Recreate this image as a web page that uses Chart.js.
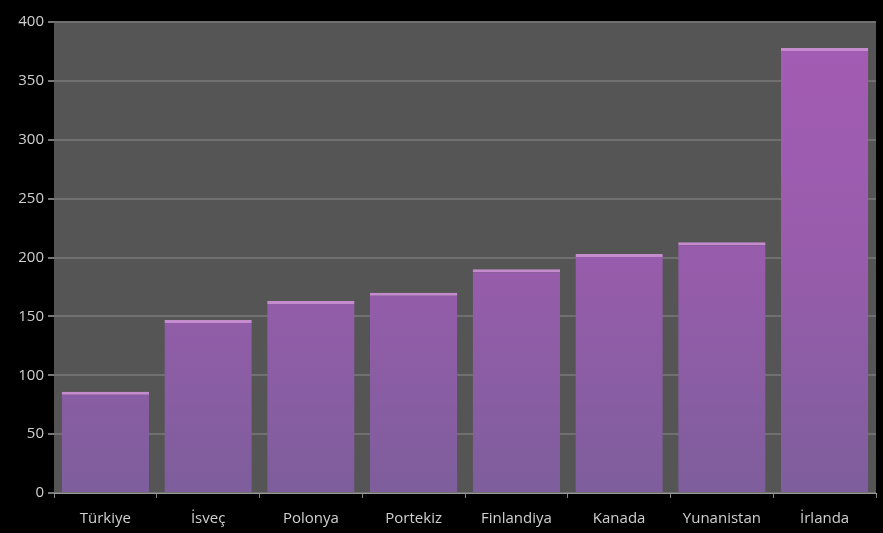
<!DOCTYPE html>
<html><head><meta charset="utf-8">
<script src="https://cdn.jsdelivr.net/npm/chart.js@4"></script>
<style>html,body{margin:0;padding:0;background:#000}#wrap{width:883px;height:533px}</style>
</head><body><div id="wrap"><canvas id="c" width="883" height="533"></canvas></div>
<script>
const categories = ["Türkiye","İsveç","Polonya","Portekiz","Finlandiya","Kanada","Yunanistan","İrlanda"];
const values = [86, 147, 163, 170, 190, 203, 213, 378];
const yTicks = [0,50,100,150,200,250,300,350,400];

const bgPlugin = {
  id:'bg',
  beforeDraw(chart){
    const {ctx, chartArea:a} = chart;
    ctx.save();
    ctx.fillStyle='#000';
    ctx.fillRect(0,0,chart.width,chart.height);
    ctx.fillStyle='#555555';
    ctx.fillRect(a.left,a.top,a.right-a.left,a.bottom-a.top);
    ctx.restore();
  }
};

function grad(context){
  const chart = context.chart; const a = chart.chartArea;
  if(!a) return '#9060a8';
  const g = chart.ctx.createLinearGradient(0,a.top,0,a.bottom);
  g.addColorStop(0,'#a45cb4');
  g.addColorStop(0.5,'#985cac');
  g.addColorStop(1,'#7e5e9c');
  return g;
}

new Chart(document.getElementById('c'),{
  type:'bar',
  data:{labels:categories,datasets:[{data:values,backgroundColor:grad,
    borderColor:'#c48ccc',borderWidth:{top:3,left:0,right:0,bottom:0},borderSkipped:'bottom',
    barPercentage:0.85,categoryPercentage:1}]},
  options:{
    responsive:false,animation:false,
    layout:{padding:{top:22,right:7,left:0,bottom:0}},
    plugins:{legend:{display:false},tooltip:{enabled:false}},
    scales:{
      x:{grid:{display:true,drawOnChartArea:false,color:'#888',tickLength:5,offset:true},
        border:{color:'#999',width:1},
        afterFit(s){s.height=40;},
        ticks:{color:'#d0d0d0',font:{family:'Open Sans',size:15},padding:12}},
      y:{min:0,max:400,
        afterBuildTicks(s){s.ticks=yTicks.map(v=>({value:v}));},
        afterFit(s){s.width=54;},
        grid:{color:'#707070',lineWidth:2,tickLength:6,tickColor:'#777'},
        border:{display:false},
        ticks:{color:'#d0d0d0',font:{family:'Open Sans',size:15},padding:4}}
    }
  },
  plugins:[bgPlugin]
});
</script></body></html>
